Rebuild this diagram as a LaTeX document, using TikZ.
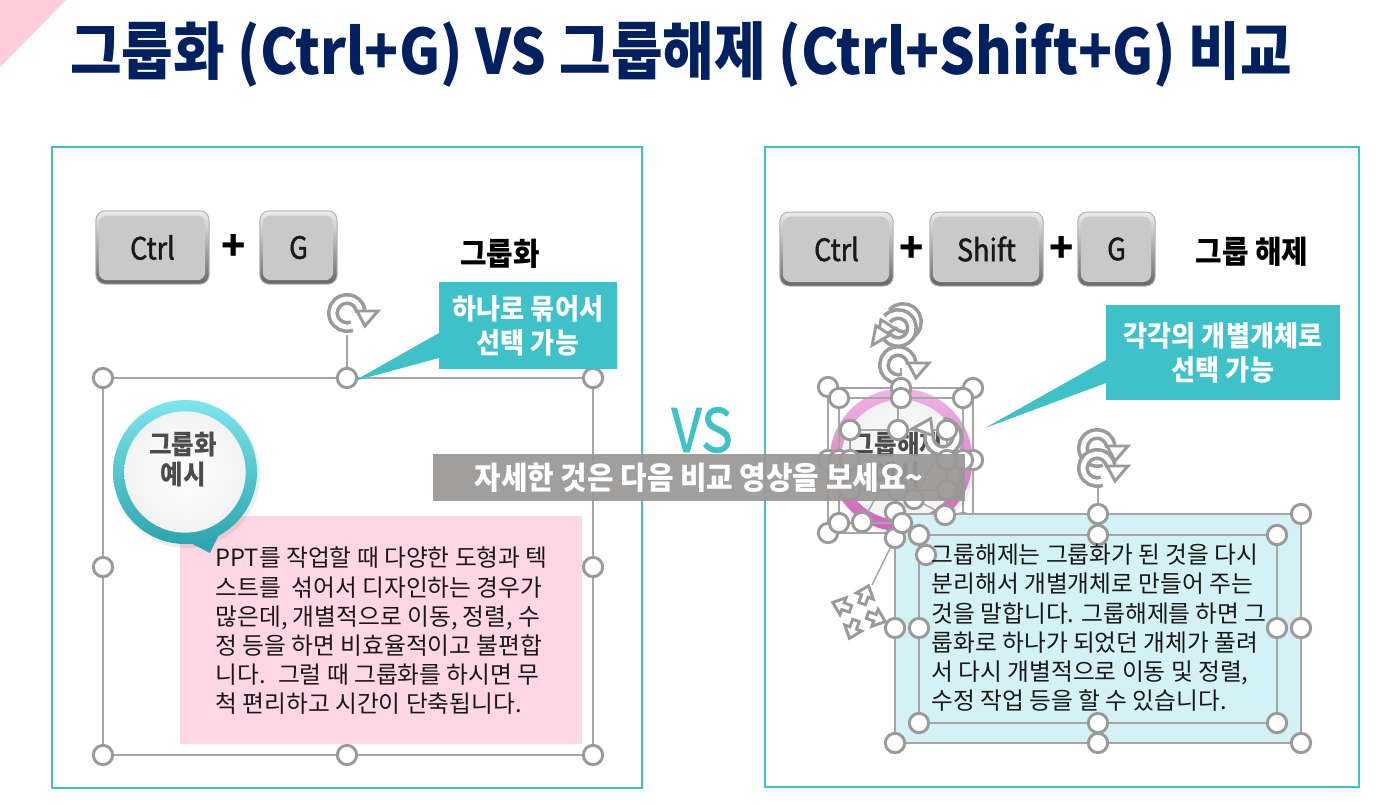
\documentclass[tikz,border=0pt]{standalone}
\usepackage{fontspec}
\setmainfont{Noto Sans CJK KR}
\newfontfamily\titlefont[FakeStretch=0.895]{Noto Sans CJK KR}
\newfontfamily\bodyfont[FakeStretch=0.92]{Noto Sans CJK KR}
\newfontfamily\descfont{Noto Sans CJK KR}
\newfontfamily\keyfont[FakeStretch=0.88,FakeBold=1.4]{Noto Sans CJK KR}
\definecolor{tealbar}{HTML}{3FC1CA}
\definecolor{navytitle}{HTML}{002060}
\definecolor{cornerpink}{HTML}{FFCCD9}
\definecolor{gripgray}{HTML}{9A9A9A}
\definecolor{linegray}{HTML}{A6A6A6}
\definecolor{keyface}{HTML}{C9C9C9}
\definecolor{pinkbox}{HTML}{FFD6E3}
\definecolor{cyanbox}{HTML}{D4F1F5}
\definecolor{bandgray}{HTML}{9A9896}
\definecolor{tealtop}{HTML}{7CE6EC}
\definecolor{tealbot}{HTML}{2EA6AE}
\definecolor{pinktop}{HTML}{F0B4E4}
\definecolor{pinkbot}{HTML}{D062B8}
\tikzset{every picture/.style={line width=0.75pt},
  grip/.style={circle,draw=gripgray,fill=white,line width=2.2pt,minimum size=14.5pt,inner sep=0pt},
  gripline/.style={draw=linegray,line width=1.1pt},
  panel/.style={draw=tealbar,line width=1.9pt},
  keycap/.style={rounded corners=7pt,draw=gray!60,top color=white!85!gray,bottom color=gray!80!black,
    inner sep=0pt,font=\keyfont\fontsize{23}{23}\selectfont,text=black!90,
    path picture={\fill[keyface,rounded corners=6pt] ([shift={(2.2pt,3pt)}]path picture bounding box.south west) rectangle ([shift={(-3pt,-3.5pt)}]path picture bounding box.north east);}},
  plussign/.style={inner sep=0pt,font=\bfseries\fontsize{30}{30}\selectfont,text=black},
  sidelabel/.style={inner sep=0pt,text=black,font=\bfseries\bodyfont\fontsize{23.5}{23.5}\selectfont},
  calloutbox/.style={fill=tealbar,inner sep=0pt,align=center,text=white,font=\bfseries\bodyfont\fontsize{21.3}{25.5}\selectfont},
  bodytext/.style={anchor=north west,inner sep=0pt,align=left,text=black!90,font=\descfont\fontsize{17.8}{21.9}\selectfont},
  pintext/.style={inner sep=0pt,align=center,text=black!70,font=\bfseries\bodyfont\fontsize{20}{22.5}\selectfont},
  rotatesym/.pic={
    \draw[gripgray,line width=9pt] (-70:14) arc[start angle=-70,end angle=-352,radius=14];
    \draw[white,line width=3.6pt] (-70:14) arc[start angle=-70,end angle=-352,radius=14];
    \draw[gripgray,fill=white,line width=2.2pt,line join=miter] (10,2) -- (31,2) -- (18,-13) -- cycle;
  },
  movesym/.pic={
    \foreach \ang in {0,90,180,270}{
      \draw[gripgray,fill=white,line width=2.2pt,rotate=\ang] (-3.5,9) -- (-3.5,17) -- (-9,17) -- (0,28) -- (9,17) -- (3.5,17) -- (3.5,9) -- cycle;
    }
  }
}

\begin{document}
\begin{tikzpicture}[x=0.75pt,y=0.75pt,yscale=-1,xscale=1]
\useasboundingbox (0,0) rectangle (1384,804);

%Corner Triangle
\fill [cornerpink] (0,0) -- (66,0) -- (0,67) -- cycle;

%Panels
\draw [panel] (52,147) rectangle (642,788);
\draw [panel] (765,147) rectangle (1359,787);

% Text Node
\draw (681,54) node [inner sep=0pt,text=navytitle,font=\titlefont\bfseries\fontsize{47}{47}\selectfont] (titleText) {그룹화 (Ctrl+G) VS 그룹해제 (Ctrl+Shift+G) 비교};

%Key Caps left
\draw (152.5,247.5) node [keycap,minimum width=85pt,minimum height=55pt] (ctrlA) {Ctrl};
\draw (234,247) node [plussign] (plusA) {+};
\draw (298.5,247.5) node [keycap,minimum width=58pt,minimum height=55pt] (gA) {G};
% Text Node
\draw (500,254) node [sidelabel] (groupLabel) {그룹화};

%Key Caps right
\draw (836.5,249) node [keycap,minimum width=85pt,minimum height=55.5pt] (ctrlB) {Ctrl};
\draw (912,249) node [plussign] (plusB) {+};
\draw (986.5,249) node [keycap,minimum width=85pt,minimum height=55.5pt] (shiftB) {Shift};
\draw (1062,249) node [plussign] (plusC) {+};
\draw (1116.5,249) node [keycap,minimum width=58pt,minimum height=55.5pt] (gB) {G};
% Text Node
\draw (1252,252) node [sidelabel] (ungroupLabel) {그룹 해제};

%Left Selection
\coordinate (leftTL) at (103,378);
\coordinate (leftBR) at (593,755);
\coordinate (leftTop) at (347,378);
\coordinate (leftRot) at (347,335);
\draw [gripline] (leftTL) rectangle (leftBR);
\draw [gripline] (leftTop) -- (leftRot);
\pic (rotA) at (347,313) {rotatesym};
\draw (103,378) node [grip] (gripA1) {};
\draw (347,378) node [grip] (gripA2) {};
\draw (593,378) node [grip] (gripA3) {};
\draw (103,567) node [grip] (gripA4) {};
\draw (593,567) node [grip] (gripA5) {};
\draw (103,755) node [grip] (gripA6) {};
\draw (347,755) node [grip] (gripA7) {};
\draw (593,755) node [grip] (gripA8) {};

%Pink Text Box
\fill [pinkbox] (180,516) rectangle (582,744);
% Text Node
\draw (215,546.5) node [bodytext] (pinkText) {PPT를 작업할 때 다양한 도형과 텍\\스트를 ~섞어서 디자인하는 경우가\\많은데, 개별적으로 이동, 정렬, 수\\정 등을 하면 비효율적이고 불편합\\니다. ~그럴 때 그룹화를 하시면 무\\척 편리하고 시간이 단축됩니다.};

%Teal Pin
\fill [black,opacity=0.07] (187,475) circle [radius=73];
\fill [tealbot] (150,522) -- (210,553) -- (226,520) -- cycle;
\draw (185,472) node [circle,minimum size=108pt,inner sep=0pt,top color=tealtop,bottom color=tealbot] (pinRingA) {};
\draw (185,472) node [circle,minimum size=91pt,inner sep=0pt,shade,inner color=white,outer color=gray!10] (pinFaceA) {};
\draw (183,460) node [pintext] (pinTextA) {그룹화\\예시};

%Left Callout
\fill [tealbar] (439,333) -- (354,381) -- (439,358) -- cycle;
\draw (528,325.5) node [calloutbox,minimum width=133.5pt,minimum height=65pt] (calloutA) {하나로 묶어서\\선택 가능};

%Pink Pin
\fill [black,opacity=0.07] (903,463) circle [radius=72];
\fill [pinkbot] (888,525) -- (925,556) -- (945,515) -- cycle;
\draw (901,460) node [circle,minimum size=107pt,inner sep=0pt,top color=pinktop,bottom color=pinkbot] (pinRingB) {};
\draw (901,460) node [circle,minimum size=90pt,inner sep=0pt,shade,inner color=white,outer color=gray!10] (pinFaceB) {};
\draw (897,460) node [pintext] (pinTextB) {그룹해제\\예시};

%Right Small Selection
\coordinate (midTL) at (828,388);
\coordinate (midBR) at (973,533);
\coordinate (innerTL) at (839,398);
\coordinate (innerBR) at (963,523);
\coordinate (coreTL) at (850,430);
\coordinate (coreBR) at (947,490);
\coordinate (moveStem) at (872,585);
\coordinate (moveFoot) at (895,538);
\coordinate (coreMid) at (914,499);
\coordinate (coreSide) at (935,460);
\coordinate (coreLow) at (945,515);
\coordinate (coreBot) at (880,490);
\coordinate (coreBotEnd) at (862,522);
\coordinate (topMid) at (901,388);
\coordinate (topStem) at (901,368);
\coordinate (coreTop) at (898,398);
\coordinate (coreTopEnd) at (898,430);
\draw [gripline] (midTL) rectangle (midBR);
\draw [gripline] (innerTL) rectangle (innerBR);
\draw [gripline] (coreTL) rectangle (coreBR);
\draw [gripline] (moveFoot) -- (moveStem);
\draw [gripline] (coreSide) -- (coreMid) -- (coreLow);
\draw [gripline] (coreBot) -- (coreBotEnd);
\draw [gripline] (topMid) -- (topStem);
\draw [gripline] (coreTop) -- (coreTopEnd);
\pic [rotate=-150] (rotB) at (903,322) {rotatesym};
\pic [rotate=-150] (rotC) at (898,328) {rotatesym};
\pic (rotD) at (898,365) {rotatesym};
\pic [rotate=-200] (rotE) at (943,437) {rotatesym};
\pic [rotate=-20] (moveA) at (859,612) {movesym};
\draw (828,387) node [grip] (gripB1) {};
\draw (973,388) node [grip] (gripB2) {};
\draw (828,533) node [grip] (gripB3) {};
\draw (973,533) node [grip] (gripB4) {};
\draw (839,398) node [grip] (gripB5) {};
\draw (963,398) node [grip] (gripB6) {};
\draw (839,523) node [grip] (gripB7) {};
\draw (963,523) node [grip] (gripB8) {};
\draw (901,388) node [grip] (gripB9) {};
\draw (901,398) node [grip] (gripB10) {};
\draw (828,460) node [grip] (gripB11) {};
\draw (839,460) node [grip] (gripB12) {};
\draw (850,460) node [grip] (gripB13) {};
\draw (973,460) node [grip] (gripB14) {};
\draw (963,460) node [grip] (gripB15) {};
\draw (947,460) node [grip] (gripB16) {};
\draw (850,430) node [grip] (gripB17) {};
\draw (947,430) node [grip] (gripB18) {};
\draw (850,490) node [grip] (gripB19) {};
\draw (947,490) node [grip] (gripB20) {};
\draw (898,430) node [grip] (gripB21) {};
\draw (898,490) node [grip] (gripB22) {};
\draw (914,499) node [grip] (gripB23) {};

%Cyan Text Box
\coordinate (cyanTL) at (895,514);
\coordinate (cyanBR) at (1301,743);
\coordinate (cyanInTL) at (919,535);
\coordinate (cyanInBR) at (1277,723);
\coordinate (cyanTop) at (1098,514);
\coordinate (cyanRot) at (1098,480);
\fill [cyanbox] (cyanTL) rectangle (cyanBR);
\draw [gripline] (cyanTL) rectangle (cyanBR);
\draw [gripline] (cyanInTL) rectangle (cyanInBR);
\draw [gripline] (cyanTop) -- (cyanRot);
\pic (rotF) at (1097,448) {rotatesym};
\pic (rotG) at (1097,468) {rotatesym};
\draw (895,538) node [grip] (gripC1) {};
\draw (895,512) node [grip] (gripC2) {};
\draw (902,523) node [grip] (gripC3) {};
\draw (862,522) node [grip] (gripC4) {};
\draw (919,535) node [grip] (gripC5) {};
\draw (945,515) node [grip] (gripC6) {};
\draw (926,555) node [grip] (gripC7) {};
\draw (1301,514) node [grip] (gripC8) {};
\draw (1098,514) node [grip] (gripC9) {};
\draw (1098,535) node [grip] (gripC10) {};
\draw (1277,535) node [grip] (gripC11) {};
\draw (895,628) node [grip] (gripC12) {};
\draw (919,628) node [grip] (gripC13) {};
\draw (1277,628) node [grip] (gripC14) {};
\draw (1301,628) node [grip] (gripC15) {};
\draw (919,723) node [grip] (gripC16) {};
\draw (1098,723) node [grip] (gripC17) {};
\draw (1277,723) node [grip] (gripC18) {};
\draw (895,743) node [grip] (gripC19) {};
\draw (1098,743) node [grip] (gripC20) {};
\draw (1301,743) node [grip] (gripC21) {};
% Text Node
\draw (931,543.5) node [bodytext] (cyanText) {그룹해제는 그룹화가 된 것을 다시\\분리해서 개별개체로 만들어 주는\\것을 말합니다. 그룹해제를 하면 그\\룹화로 하나가 되었던 개체가 풀려\\서 다시 개별적으로 이동 및 정렬,\\수정 작업 등을 할 수 있습니다.};

%Right Callout
\fill [tealbar] (1106,360) -- (985,428) -- (1106,383) -- cycle;
\draw (1223,352.5) node [calloutbox,minimum width=175.5pt,minimum height=71pt] (calloutB) {각각의 개별개체로\\선택 가능};

% Text Node
\draw (702,430) node [inner sep=0pt,text=tealbar,font=\keyfont\fontsize{45}{45}\selectfont] (vsText) {VS};

%Gray Band
\draw (699,477.5) node [fill=bandgray,fill opacity=0.93,text opacity=1,minimum width=399pt,minimum height=35pt,inner sep=0pt,text=white,font=\bfseries\bodyfont\fontsize{23.5}{23.5}\selectfont] (bandText) {자세한 것은 다음 비교 영상을 보세요\textasciitilde};

\end{tikzpicture}
\end{document}
